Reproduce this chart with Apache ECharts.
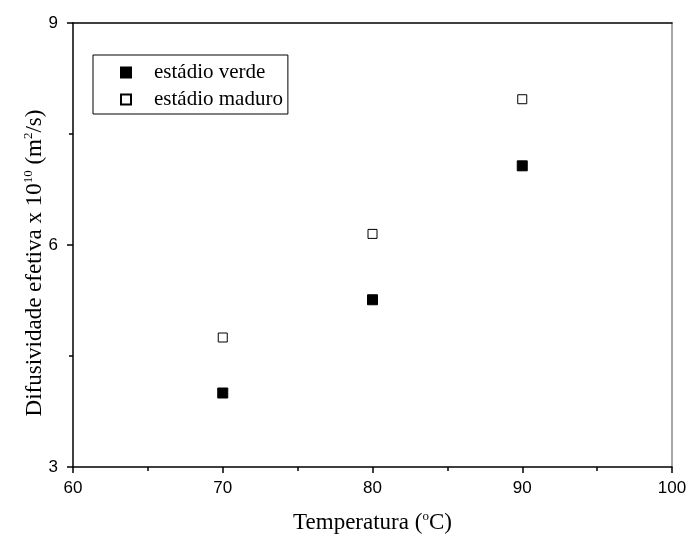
<!DOCTYPE html>
<html>
<head>
<meta charset="utf-8">
<script src="https://cdn.jsdelivr.net/npm/echarts@6/dist/echarts.min.js"></script>
<style>html,body{margin:0;padding:0;background:#fff}#c{width:689px;height:536px}</style>
</head>
<body>
<div id="c"></div>
<script>
const temps = [70, 80, 90];
const verde = [4.00, 5.26, 7.07];
const maduro = [4.75, 6.15, 7.97];
const seriesNames = ['estádio verde', 'estádio maduro'];

const chart = echarts.init(document.getElementById('c'));
const serif = '"Liberation Serif", "Times New Roman", serif';
const sans = '"Liberation Sans", Arial, sans-serif';
chart.setOption({
  animation: false,
  backgroundColor: '#fff',
  grid: {left: 73, right: 17, top: 23, bottom: 69, containLabel: false, outerBoundsMode: 'none'},
  legend: {
    show: true, orient: 'vertical', left: 93, top: 55,
    data: seriesNames,
    icon: 'rect', itemWidth: 10, itemHeight: 10, itemGap: 6,
    padding: [7, 5, 4, 27],
    borderColor: '#000', borderWidth: 1,
    textStyle: {fontFamily: serif, fontSize: 21, color: '#000', padding: [0, 0, 0, 18]}
  },
  xAxis: [{
    type: 'value', min: 60, max: 100, interval: 10,
    name: '{a|Temperatura (}{s|o}{a|C)}', nameLocation: 'middle', nameGap: 43, nameMoveOverlap: false,
    nameTextStyle: {rich: {a: {fontFamily: serif, fontSize: 23, color: '#000'}, s: {fontFamily: serif, fontSize: 13, color: '#000', padding: [0, 0, 12, 0]}}},
    axisLine: {show: true, onZero: false, lineStyle: {color: '#000', width: 1.5}},
    axisTick: {show: true, inside: false, length: 6, lineStyle: {color: '#000', width: 1.5}},
    minorTick: {show: true, splitNumber: 2, length: 4, lineStyle: {color: '#000', width: 1.5}},
    axisLabel: {fontFamily: sans, fontSize: 17, color: '#000', margin: 13},
    splitLine: {show: false}
  }, {
    type: 'value', position: 'top', min: 60, max: 100,
    axisLine: {show: true, onZero: false, lineStyle: {color: '#000', width: 1.5}},
    axisTick: {show: false}, axisLabel: {show: false}, splitLine: {show: false}
  }],
  yAxis: [{
    type: 'value', min: 3, max: 9, interval: 3,
    name: '{a|Difusividade efetiva x 10}{s|10}{a| (m}{s|2}{a|/s)}', nameLocation: 'middle', nameGap: 26, nameMoveOverlap: false,
    nameTextStyle: {padding: [0, 36, 0, 0], rich: {a: {fontFamily: serif, fontSize: 23, color: '#000'}, s: {fontFamily: serif, fontSize: 13, color: '#000', padding: [0, 0, 12, 0]}}},
    axisLine: {show: true, onZero: false, lineStyle: {color: '#000', width: 1.5}},
    axisTick: {show: true, inside: false, length: 6, lineStyle: {color: '#000', width: 1.5}},
    minorTick: {show: true, splitNumber: 2, length: 4, lineStyle: {color: '#000', width: 1.5}},
    axisLabel: {fontFamily: sans, fontSize: 17, color: '#000', margin: 15},
    splitLine: {show: false}
  }, {
    type: 'value', position: 'right', min: 3, max: 9,
    axisLine: {show: true, onZero: false, lineStyle: {color: '#888', width: 1.5}},
    axisTick: {show: false}, axisLabel: {show: false}, splitLine: {show: false}
  }],
  series: [{
    name: seriesNames[0], type: 'scatter', symbol: 'rect', symbolSize: 10,
    itemStyle: {color: '#000', borderColor: '#000', borderWidth: 1, opacity: 1},
    data: temps.map((t, i) => [t, verde[i]])
  }, {
    name: seriesNames[1], type: 'scatter', symbol: 'rect', symbolSize: 9,
    itemStyle: {color: '#fff', borderColor: '#000', borderWidth: 1, opacity: 1},
    data: temps.map((t, i) => [t, maduro[i]])
  }]
});
</script>
</body>
</html>
